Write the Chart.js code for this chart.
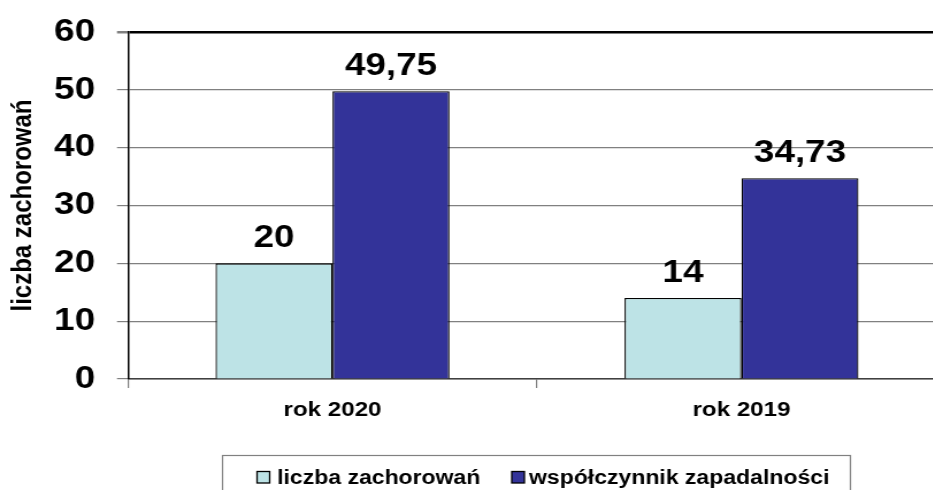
<!DOCTYPE html>
<html>
<head>
<meta charset="utf-8">
<script src="https://cdn.jsdelivr.net/npm/chart.js@4"></script>
<style>
  html, body { margin: 0; padding: 0; background: #fff; overflow: hidden; width: 933px; height: 490px; }
  #wrap { width: 826px; height: 490px; transform: scaleX(1.15); transform-origin: 0 0; }
  canvas { display: block; }
</style>
</head>
<body>
<div id="wrap"><canvas id="c" width="826" height="490"></canvas></div>
<script>
const categories = ['rok 2020', 'rok 2019'];
const seriesNames = ['liczba zachorowań', 'współczynnik zapadalności'];
const casesValues = [20, 14];
const rateValues = [49.75, 34.73];
const yTicks = [0, 10, 20, 30, 40, 50, 60];
const axisTitle = 'liczba zachorowań';

const FONT = "'Liberation Sans', Arial, sans-serif";
const colors = ['#BDE3E6', '#333399'];

function fmt(v) { return String(v).replace('.', ','); }

const dataLabels = {
  id: 'dataLabels',
  afterDatasetsDraw(chart) {
    const ctx = chart.ctx;
    ctx.save();
    ctx.fillStyle = '#000';
    ctx.font = 'bold 32px ' + FONT;
    ctx.textAlign = 'center';
    ctx.textBaseline = 'alphabetic';
    chart.data.datasets.forEach((ds, i) => {
      const meta = chart.getDatasetMeta(i);
      meta.data.forEach((el, j) => {
        ctx.fillText(fmt(ds.data[j]), el.x, el.y - 16);
      });
    });
    ctx.restore();
  }
};

const boxLegend = {
  id: 'boxLegend',
  afterDraw(chart) {
    const ctx = chart.ctx;
    ctx.save();
    ctx.strokeStyle = '#808080';
    ctx.lineWidth = 1.2;
    ctx.strokeRect(193.5, 455.5, 546, 50);
    const items = [
      { sx: 223.5, tx: 241 },
      { sx: 445, tx: 460 }
    ];
    ctx.font = 'bold 20px ' + FONT;
    ctx.textBaseline = 'alphabetic';
    ctx.textAlign = 'left';
    chart.data.datasets.forEach((ds, i) => {
      const it = items[i];
      ctx.fillStyle = ds.backgroundColor;
      ctx.fillRect(it.sx, 471.5, 11, 11.5);
      ctx.strokeStyle = '#000';
      ctx.lineWidth = 1.3;
      ctx.strokeRect(it.sx, 471.5, 11, 11.5);
      ctx.fillStyle = '#000';
      ctx.fillText(ds.label, it.tx, 484);
    });
    ctx.restore();
  }
};

new Chart(document.getElementById('c'), {
  type: 'bar',
  data: {
    labels: categories,
    datasets: [
      { label: seriesNames[0], data: casesValues, backgroundColor: colors[0], borderColor: '#000', borderWidth: 1.3 },
      { label: seriesNames[1], data: rateValues, backgroundColor: colors[1], borderColor: '#000', borderWidth: 1.3 }
    ]
  },
  options: {
    responsive: false,
    animation: false,
    devicePixelRatio: 1,
    layout: { padding: { top: 32, right: 3.4, bottom: 66, left: 0 } },
    datasets: { bar: { categoryPercentage: 0.572, barPercentage: 1 } },
    plugins: { legend: { display: false }, tooltip: { enabled: false } },
    scales: {
      x: {
        grid: { display: true, drawOnChartArea: false, tickLength: 9, color: '#808080', lineWidth: 1.2 },
        border: { color: '#404040', width: 1.5 },
        ticks: { padding: 10, color: '#000', font: { family: FONT, size: 21, weight: 'bold' } },
        afterFit(s) { s.height = 45; s.paddingLeft = 0; s.paddingRight = 0; }
      },
      y: {
        min: 0, max: 60,
        afterBuildTicks(s) { s.ticks = yTicks.map(v => ({ value: v })); },
        ticks: { padding: 19, color: '#000', font: { family: FONT, size: 32, weight: 'bold' } },
        grid: {
          color: c => (c.tick && c.tick.value === 60) ? '#000' : '#808080',
          lineWidth: c => (c.tick && c.tick.value === 60) ? 2.5 : 1.2,
          tickLength: 9.6,
          tickColor: '#808080'
        },
        border: { color: '#000', width: 1.5 },
        title: { display: true, text: axisTitle, color: '#000', font: { family: FONT, size: 24, weight: 'bold' }, padding: { top: 5.5, bottom: 0 } },
        afterFit(s) { s.width = 111.3; s.paddingTop = 0; s.paddingBottom = 0; }
      }
    }
  },
  plugins: [dataLabels, boxLegend]
});
</script>
</body>
</html>
